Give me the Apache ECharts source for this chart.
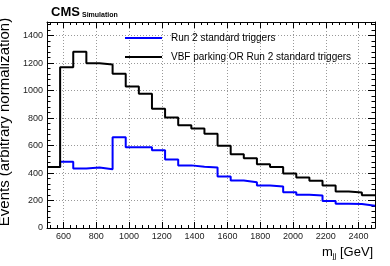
<!DOCTYPE html>
<html>
<head>
<meta charset="utf-8">
<script src="https://cdn.jsdelivr.net/npm/echarts@6/dist/echarts.min.js"></script>
<style>
html,body{margin:0;padding:0;background:#fff;}
#chart{width:390px;height:266px;}
</style>
</head>
<body>
<div id="chart"></div>
<script>
// ---- data ----
const binEdges = [500,580,660,740,820,900,980,1060,1140,1220,1300,1380,1460,1540,1620,1700,1780,1860,1940,2020,2100,2180,2260,2340,2420,2500];
const run2Std = [445,482,433,440,428,660,588,588,566,499,456,446,440,375,346,333,309,302,261,242,236,196,177,174,162];
const vbfOrRun2 = [445,1171,1283,1200,1190,1123,1031,978,869,805,748,724,686,598,537,508,465,445,397,367,344,310,266,258,238];
const xTickLabels = [600,800,1000,1200,1400,1600,1800,2000,2200,2400];
const yTickLabels = [0,200,400,600,800,1000,1200,1400];
const seriesNames = ['Run 2 standard triggers','VBF parking OR Run 2 standard triggers'];

function stepData(vals){
  const d = vals.map((v,i)=>[binEdges[i], v]);
  d.push([binEdges[binEdges.length-1], vals[vals.length-1]]);
  return d;
}
const X0 = 500, X1 = 2500, Y0 = 0, Y1 = 1500;
const xMinor = [], yMinor = [];
for (let v = X0 + 20; v < X1; v += 40) { if (v % 200 !== 0) xMinor.push(v); }
for (let v = Y0 + 40; v < Y1; v += 40) { if (v % 200 !== 0) yMinor.push(v); }

const font = 'Liberation Sans, Arial, Helvetica, sans-serif';
const chart = echarts.init(document.getElementById('chart'), null, {renderer:'canvas'});
const plain = v => String(v);

function mkAx(min, max, pos, ticks, len, labels, line, split){
  return {
    type:'value', min:min, max:max, position:pos,
    axisLine:{show:line, onZero:false, lineStyle:{color:'#000', width:1}},
    axisTick:{show:true, inside:true, length:len, customValues:ticks, lineStyle:{color:'#000', width:1}},
    axisLabel:{show:labels, customValues:labels?ticks:undefined, formatter:plain, color:'#222', fontSize:9, fontFamily:font, margin:4},
    splitLine:{show:split, lineStyle:{color:'#999', type:[1,2], width:1}}
  };
}
const yMain = mkAx(Y0, Y1, 'left', yTickLabels, 7, true, true, true);
yMain.name = 'Events (arbitrary normalization)';
yMain.nameLocation = 'middle';
yMain.nameRotate = 90;
yMain.nameGap = 26;
yMain.nameTextStyle = {fontSize:15, fontFamily:font, color:'#000', padding:[0,0,0,6]};

chart.setOption({
  animation:false,
  backgroundColor:'#fff',
  grid:{left:47, right:15, top:22, bottom:38, containLabel:false, outerBoundsMode:'none'},
  xAxis:[
    mkAx(X0, X1, 'bottom', xTickLabels, 6, true, true, true),
    mkAx(X0, X1, 'bottom', xMinor, 3, false, false, false),
    mkAx(X0, X1, 'top', xTickLabels, 6, false, true, false),
    mkAx(X0, X1, 'top', xMinor, 3, false, false, false)
  ],
  yAxis:[
    yMain,
    mkAx(Y0, Y1, 'left', yMinor, 3.5, false, false, false),
    mkAx(Y0, Y1, 'right', yTickLabels, 7, false, true, false),
    mkAx(Y0, Y1, 'right', yMinor, 3.5, false, false, false)
  ],
  legend:{
    left:125, top:33, padding:0, orient:'vertical', itemGap:9,
    itemWidth:37, itemHeight:2, icon:'rect',
    textStyle:{color:'#000', fontSize:10, fontFamily:font, padding:[0,0,0,4]},
    data:seriesNames
  },
  graphic:[
    {type:'text', left:51, top:6, style:{text:'CMS', font:'bold 13px '+font, fill:'#000'}},
    {type:'text', left:82, top:12, style:{text:'Simulation', font:'bold 7px '+font, fill:'#000'}},
    {type:'text', left:322, top:246, style:{
      text:'{m|m}{s|jj}{m| [GeV]}',
      rich:{ m:{font:'13px '+font, color:'#000'}, s:{font:'8px '+font, color:'#000', verticalAlign:'bottom', padding:[6,0,0,0]} }
    }}
  ],
  series:[
    {name:seriesNames[0], type:'line', step:'end', xAxisIndex:0, yAxisIndex:0, data:stepData(run2Std),
     showSymbol:false, symbol:'none', lineStyle:{color:'#0000ff', width:2}, itemStyle:{color:'#0000ff'}, z:3},
    {name:seriesNames[1], type:'line', step:'end', xAxisIndex:0, yAxisIndex:0, data:stepData(vbfOrRun2),
     showSymbol:false, symbol:'none', lineStyle:{color:'#000', width:2}, itemStyle:{color:'#000'}, z:4}
  ]
});
</script>
</body>
</html>
